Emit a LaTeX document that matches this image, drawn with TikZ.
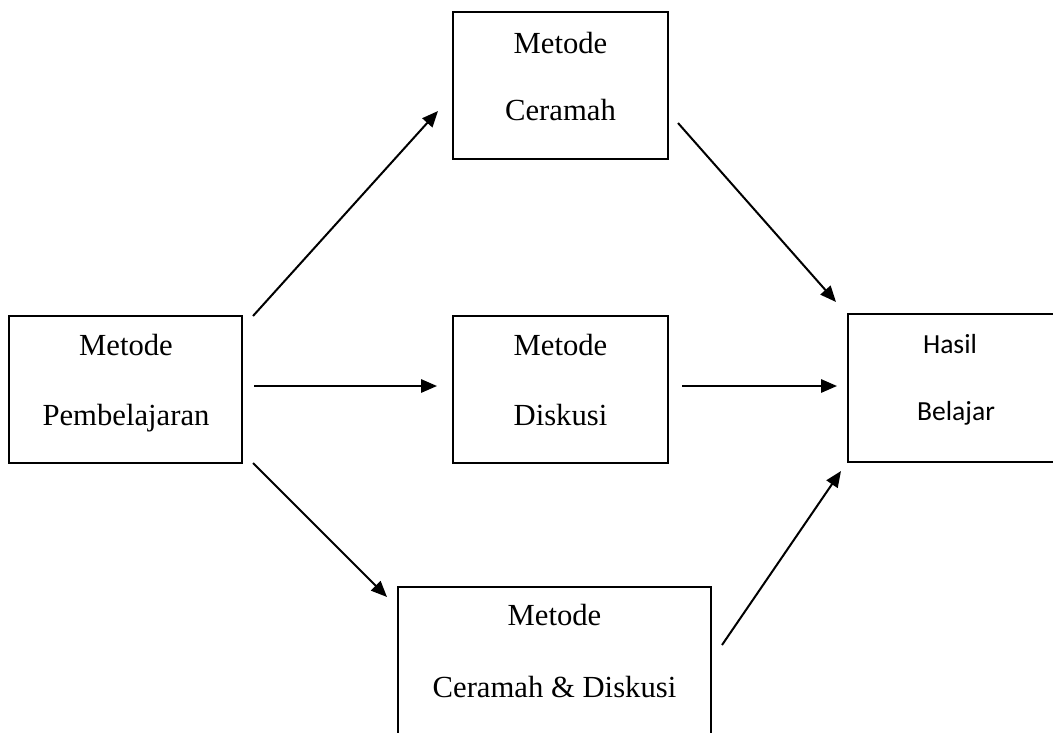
\documentclass[tikz,border=0pt]{standalone}
\usepackage{fontspec}
\setmainfont{Liberation Serif}
\newfontfamily\calibrifont{Carlito}
\usetikzlibrary{arrows.meta}
\begin{document}
\begin{tikzpicture}[x=0.75pt,y=-0.75pt,
  box/.style={draw,line width=1.5pt,rectangle,inner sep=0pt,minimum height=110.25pt},
  txt/.style={font=\fontsize{23}{27}\selectfont,anchor=base,inner sep=0pt},
  htxt/.style={font=\calibrifont\fontsize{20.7}{25}\selectfont,anchor=base,inner sep=0pt},
  arr/.style={line width=1.5pt,-{Triangle[length=12pt,width=10pt]}}]
\clip (0,0) rectangle (1053,732);
% boxes
\node[box,minimum width=174.75pt] (pem) at (125.5,389.5) {};
\node[box,minimum width=161.25pt] (cer) at (560.5,85.5) {};
\node[box,minimum width=161.25pt] (dis) at (560.5,389.5) {};
\node[box,minimum width=157.5pt,minimum height=111pt] (has) at (953,388) {};
\node[box,minimum width=234.75pt] (crd) at (554.5,660.5) {};
% texts
\node[txt] (pem1) at (126,355) {Metode};
\node[txt] (pem2) at (126,425) {Pembelajaran};
\node[txt] (cer1) at (560.5,53) {Metode};
\node[txt] (cer2) at (560.5,120) {Ceramah};
\node[txt] (dis1) at (560.5,355) {Metode};
\node[txt] (dis2) at (560.5,425) {Diskusi};
\node[htxt] (has1) at (950,353) {Hasil};
\node[htxt] (has2) at (956,420) {Belajar};
\node[txt] (crd1) at (554.5,625) {Metode};
\node[txt] (crd2) at (554.5,697) {Ceramah \& Diskusi};
% arrow end points
\coordinate (pc1) at (253,316);
\coordinate (pc2) at (438,111);
\coordinate (pd1) at (254,386);
\coordinate (pd2) at (437,386);
\coordinate (pr1) at (253,463);
\coordinate (pr2) at (387,597);
\coordinate (ch1) at (678,123);
\coordinate (ch2) at (836,302);
\coordinate (dh1) at (682,386);
\coordinate (dh2) at (837,386);
\coordinate (rh1) at (722,645);
\coordinate (rh2) at (841,471);
% arrows
\draw[arr] (pc1) -- (pc2);
\draw[arr] (pd1) -- (pd2);
\draw[arr] (pr1) -- (pr2);
\draw[arr] (ch1) -- (ch2);
\draw[arr] (dh1) -- (dh2);
\draw[arr] (rh1) -- (rh2);
\end{tikzpicture}
\end{document}
